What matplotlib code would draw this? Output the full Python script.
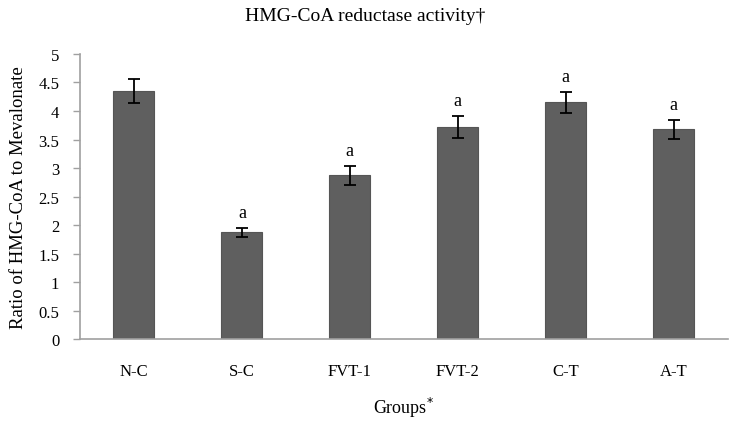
import matplotlib.pyplot as plt

groups = ["N-C", "S-C", "FVT-1", "FVT-2", "C-T", "A-T"]
ratio = [4.35, 1.87, 2.87, 3.72, 4.15, 3.68]
err = [0.21, 0.08, 0.16, 0.19, 0.19, 0.17]
marks = ["", "a", "a", "a", "a", "a"]

plt.rcParams["font.family"] = ["Liberation Serif", "DejaVu Serif"]

fig = plt.figure(figsize=(7.31, 4.31), dpi=100)
ax = fig.add_axes([0.1094, 0.2111, 0.886, 0.6613])

x = range(len(groups))
ax.bar(x, ratio, width=0.38, color="#5f5f5f", edgecolor="#555555", linewidth=0.8,
       yerr=err, error_kw=dict(ecolor="black", capsize=4, elinewidth=1.3, capthick=1.3))

for i, (v, e, m) in enumerate(zip(ratio, err, marks)):
    if m:
        ax.text(i, v + e + 0.12, m, ha="center", va="bottom", fontsize=13)

ax.set_xlim(-0.5, 5.5)
ax.set_ylim(0, 5)
ax.set_yticks([0, 0.5, 1, 1.5, 2, 2.5, 3, 3.5, 4, 4.5, 5])
ax.set_yticklabels(["0", "0.5", "1", "1.5", "2", "2.5", "3", "3.5", "4", "4.5", "5"])
ax.set_xticks(list(x))
ax.set_xticklabels(groups)
ax.tick_params(axis="x", length=0, pad=17, labelsize=12)
ax.tick_params(axis="y", length=5, color="#a0a0a0", width=1, labelsize=12, pad=10)

for s in ["top", "right"]:
    ax.spines[s].set_visible(False)
for s in ["left", "bottom"]:
    ax.spines[s].set_color("#a0a0a0")
    ax.spines[s].set_linewidth(1.2)

ax.set_ylabel("Ratio of HMG-CoA to Mevalonate", fontsize=13.5, labelpad=8)
ax.set_xlabel("Groups$^{*}$", fontsize=13, labelpad=12)
fig.text(0.5, 0.962, "HMG-CoA reductase activity\u2020", ha="center", va="center", fontsize=14)

fig.savefig("out.png", dpi=100)
